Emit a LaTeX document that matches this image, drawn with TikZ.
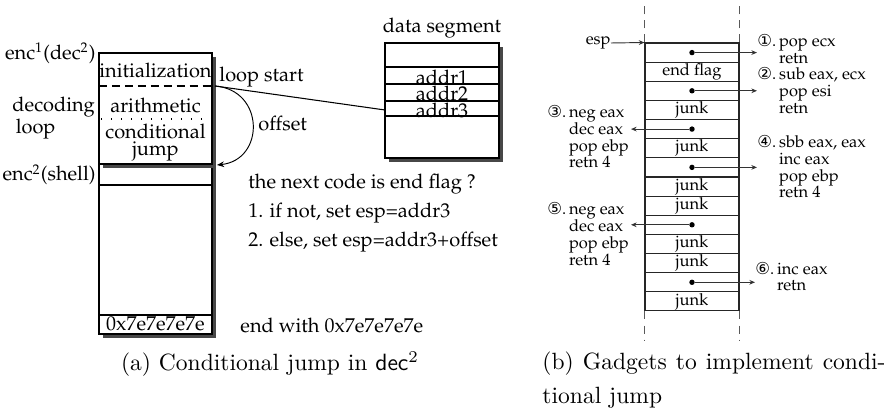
\documentclass[tikz,border=0pt]{standalone}
\usepackage[OT1]{fontenc}
\usepackage{fontspec}
\newfontfamily\dv{DejaVu Sans}
\usetikzlibrary{arrows.meta}
\newcommand\pal{\fontencoding{OT1}\fontfamily{ppl}\selectfont}
\tikzset{
  lbl/.style={font={\pal\fontsize{8.5}{7.2}\selectfont}, inner sep=0pt},
  glbl/.style={font={\pal\fontsize{7}{7.1}\selectfont}, inner sep=0pt},
  captext/.style={font={\fontsize{10}{12}\selectfont}, inner sep=0pt},
  shadowfill/.style={fill=black!72, draw=none},
  boxdraw/.style={draw=black, fill=white, line width=0.45pt},
  thinline/.style={line width=0.45pt},
  rowbox/.style={draw=black!85, line width=0.45pt, minimum width=39.95pt, minimum height=8.13pt, inner sep=0pt, font={\pal\fontsize{7}{7.1}\selectfont}},
  dotn/.style={circle, fill=black, inner sep=0pt, minimum size=2.3pt},
  arr/.style={-{Stealth[length=3pt,width=2.4pt]}, line width=0.4pt},
  sarr/.style={-{Stealth[length=2.4pt,width=2pt]}, line width=0.4pt, draw=black!80},
  vdash/.style={draw=black!65, line width=0.5pt, dash pattern=on 3.4pt off 2.6pt},
}
\begin{document}
\begin{tikzpicture}[x=0.425pt,y=-0.425pt]
\useasboundingbox (0,0) rectangle (892,408);

% ---------- panel (a) ----------
% lower box
\fill[shadowfill] (103,168) rectangle (216,338);
\draw[boxdraw] (99,164) rectangle (212,334);
\draw[thinline] (99,185) -- (212,185);
\draw[thinline] (99,315) -- (212,315);
% upper box (decoder)
\fill[shadowfill] (103,57) rectangle (216,168);
\draw[boxdraw] (99,53) rectangle (212,164);
\draw[thinline, dash pattern=on 3.4pt off 2.1pt] (99,86) -- (212,86);
\draw[thinline, dash pattern=on 0.4pt off 3.85pt] (101,119) -- (212,119);

\node[lbl] (init) at (155.5,70) {initialization};
\node[lbl] (arith) at (155.5,105) {arithmetic};
\node[lbl, align=center] (cjump) at (155.5,143) {conditional\\jump};
\node[lbl] (endv) at (155.5,324) {0x7e7e7e7e};

\node[lbl, anchor=east] (enc1) at (96,53) {enc\textsuperscript{1}(dec\textsuperscript{2})};
\node[lbl, anchor=west, align=left, font={\pal\fontsize{8.5}{8.1}\selectfont}] (dloop) at (12,118) {decoding\\\,loop};
\node[lbl, anchor=east] (enc2) at (96,175) {enc\textsuperscript{2}(shell)};

\node[lbl, anchor=west] (lstart) at (219,77) {loop start};
\node[lbl, anchor=west] (offs) at (258,123) {offset};

% data segment
\fill[shadowfill] (389,47) rectangle (503,162);
\draw[boxdraw] (385,43) rectangle (499,158);
\draw[thinline] (385,67) -- (499,67);
\draw[thinline] (385,84) -- (499,84);
\draw[thinline] (385,101) -- (499,101);
\draw[thinline] (385,116) -- (499,116);
\node[lbl] (dseg) at (442,28) {data segment};
\node[lbl] (a1) at (442,77) {addr1};
\node[lbl] (a2) at (442,93) {addr2};
\node[lbl] (a3) at (442,110) {addr3};

\coordinate (ls) at (215,86);
\coordinate (lb) at (217,165);
\coordinate (d3) at (385,110);
\draw[thinline] (ls) -- (d3);
\draw[arr] (ls) .. controls (265,90) and (265,160) .. (lb);

\node[lbl, anchor=west] (t1) at (248,184) {the next code is end flag ?};
\node[lbl, anchor=west] (t2) at (248,213) {1. if not, set esp=addr3};
\node[lbl, anchor=west] (t3) at (248,242) {2. else, set esp=addr3+offset};
\node[lbl, anchor=west] (t4) at (240,325) {end with 0x7e7e7e7e};

\node[captext] (capa) at (270,364) {(a) Conditional jump in \textsf{dec}$^2$};

% ---------- panel (b) ----------
\node[rowbox] (r1) at (692,52.6) {};
\node[rowbox] (r2) at (692,71.7) {end flag};
\node[rowbox] (r3) at (692,90.8) {};
\node[rowbox] (r4) at (692,110.0) {junk};
\node[rowbox] (r5) at (692,129.1) {};
\node[rowbox] (r6) at (692,148.3) {junk};
\node[rowbox] (r7) at (692,167.4) {};
\node[rowbox] (r8) at (692,186.6) {junk};
\node[rowbox] (r9) at (692,205.7) {junk};
\node[rowbox] (r10) at (692,224.8) {};
\node[rowbox] (r11) at (692,244.0) {junk};
\node[rowbox] (r12) at (692,263.1) {junk};
\node[rowbox] (r13) at (692,282.3) {};
\node[rowbox] (r14) at (692,301.4) {junk};

\draw[vdash] (r1.north west) -- ++(0,-40);
\draw[vdash] (r1.north east) -- ++(0,-40);
\draw[vdash] (r14.south west) -- ++(0,30);
\draw[vdash] (r14.south east) -- ++(0,30);

\node[glbl, anchor=east] (esp) at (611,43) {esp};
\draw[sarr] (esp.east) -- (r1.north west);

\node[dotn] (p1) at (r1.center) {};
\node[dotn] (p3) at (r3.center) {};
\node[dotn] (p5) at (r5.center) {};
\node[dotn] (p7) at (r7.center) {};
\node[dotn] (p10) at (r10.center) {};
\node[dotn] (p13) at (r13.center) {};

\node[glbl, anchor=west] (g1) at (757,51.5) {\begin{tabular}{@{}l@{\,}l@{}}{\dv ①}. & pop ecx\\ & retn\end{tabular}};
\node[glbl, anchor=west] (g2) at (757,93) {\begin{tabular}{@{}l@{\,}l@{}}{\dv ②}. & sub eax, ecx\\ & pop esi\\ & retn\end{tabular}};
\node[glbl, anchor=west] (g3) at (547,139) {\begin{tabular}{@{}l@{\,}l@{}}{\dv ③}. & neg eax\\ & dec eax\\ & pop ebp\\ & retn 4\end{tabular}};
\node[glbl, anchor=west] (g4) at (757,169) {\begin{tabular}{@{}l@{\,}l@{}}{\dv ④}. & sbb eax, eax\\ & inc eax\\ & pop ebp\\ & retn 4\end{tabular}};
\node[glbl, anchor=west] (g5) at (547,236.5) {\begin{tabular}{@{}l@{\,}l@{}}{\dv ⑤}. & neg eax\\ & dec eax\\ & pop ebp\\ & retn 4\end{tabular}};
\node[glbl, anchor=west] (g6) at (755,279) {\begin{tabular}{@{}l@{\,}l@{}}{\dv ⑥}. & inc eax\\ & retn\end{tabular}};

\coordinate (e3) at (631,129.1);
\coordinate (e5) at (631,224.8);
\draw[sarr] (p1) -- (g1.west |- p1);
\draw[sarr] (p3) -- (g2.west |- p3);
\draw[sarr] (p5) -- (e3);
\draw[sarr] (p7) -- (g4.west |- p7);
\draw[sarr] (p10) -- (e5);
\draw[sarr] (p13) -- (g6.west |- p13);

\node[captext, anchor=west] (capb1) at (542,364) {\makebox[145.8pt][s]{(b) Gadgets to implement condi-}};
\node[captext, anchor=west] (capb2) at (542,398) {tional jump};
\end{tikzpicture}
\end{document}
